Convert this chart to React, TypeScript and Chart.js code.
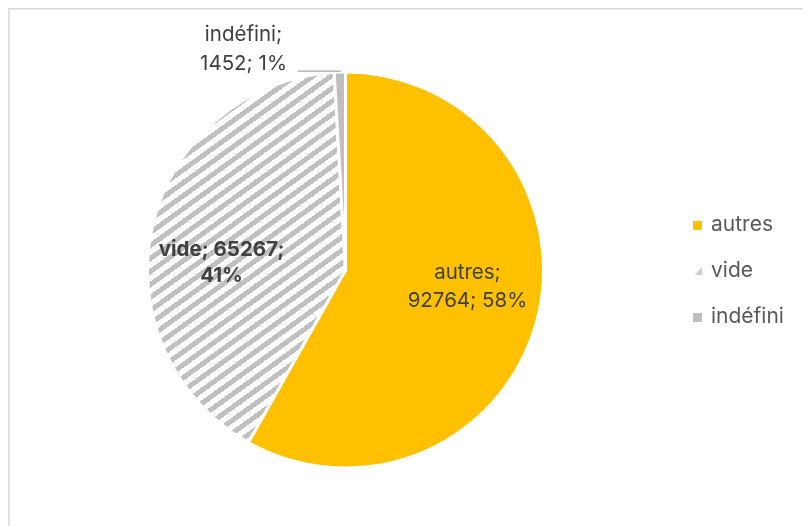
import React, { useEffect, useRef } from "react";
import { Chart, registerables } from "chart.js";

Chart.register(...registerables);

const categories = ["autres", "vide", "indéfini"];
const values = [92764, 65267, 1452];
const percentLabels = ["58%", "41%", "1%"];

const YELLOW = "#FFC000";
const GREY = "#BFBFBF";
const TEXT = "#404040";
const LEGEND_TEXT = "#595959";
const FONT = "Inter, 'Noto Sans', sans-serif";

function makeHatch(): CanvasPattern | string {
  const w = 18, h = 13;
  const c = document.createElement("canvas");
  c.width = w; c.height = h;
  const ctx = c.getContext("2d");
  if (!ctx) return GREY;
  const img = ctx.createImageData(w, h);
  for (let y = 0; y < h; y++) {
    for (let x = 0; x < w; x++) {
      const d = ((x + 0.5) / w + (y + 0.5) / h) % 1;
      const i = (y * w + x) * 4;
      const on = d < 0.48;
      img.data[i] = on ? 192 : 255;
      img.data[i + 1] = on ? 192 : 255;
      img.data[i + 2] = on ? 192 : 255;
      img.data[i + 3] = 255;
    }
  }
  ctx.putImageData(img, 0, 0);
  const p = ctx.createPattern(c, "repeat");
  return p || GREY;
}

// label anchors relative to pie centre, as fractions of radius
const labelAnchors = [
  { fx: 0.616, fy: 0.086, bold: false, lh: 28 },
  { fx: -0.626, fy: -0.035, bold: true, lh: 26 },
  { fx: -0.515, fy: -1.116, bold: false, lh: 29 },
];

export default function App() {
  const ref = useRef<HTMLCanvasElement>(null);

  useEffect(() => {
    const canvas = ref.current;
    if (!canvas) return;
    const hatch = makeHatch();
    const colors: any[] = [YELLOW, hatch, GREY];

    const overlay = {
      id: "overlay",
      beforeDraw(chart: any) {
        const ctx = chart.ctx;
        ctx.save();
        ctx.fillStyle = "#ffffff";
        ctx.fillRect(0, 0, chart.width, chart.height);
        ctx.strokeStyle = "#D9D9D9";
        ctx.lineWidth = 1.5;
        ctx.strokeRect(9, 8.75, chart.width + 20, chart.height + 20);
        ctx.restore();
      },
      afterDraw(chart: any) {
        const ctx = chart.ctx;
        const meta = chart.getDatasetMeta(0);
        const arc0 = meta.data[0];
        const cx = arc0.x, cy = arc0.y, r = arc0.outerRadius;
        ctx.save();
        ctx.textAlign = "center";
        ctx.textBaseline = "middle";
        categories.forEach((cat, i) => {
          const a = labelAnchors[i];
          const x = cx + a.fx * r;
          const y = cy + a.fy * r;
          ctx.font = `${a.bold ? "bold " : ""}20.5px ${FONT}`;
          ctx.fillStyle = TEXT;
          let lines: string[];
          if (i === 1) lines = [`${cat}; ${values[i]};`, percentLabels[i]];
          else lines = [`${cat};`, `${values[i]}; ${percentLabels[i]}`];
          ctx.fillText(lines[0], x, y - a.lh / 2);
          ctx.fillText(lines[1], x, y + a.lh / 2);
        });
        // leader line for the small slice
        const small = meta.data[2];
        const mid = (small.startAngle + small.endAngle) / 2;
        const ex = cx + Math.cos(mid) * r;
        const ey = cy + Math.sin(mid) * r - 1;
        ctx.strokeStyle = "#A6A6A6";
        ctx.lineWidth = 1.2;
        ctx.beginPath();
        ctx.moveTo(ex - 42, ey);
        ctx.lineTo(ex + 1, ey);
        ctx.stroke();

        // legend
        const lx = 693, ly0 = 225, step = 46;
        ctx.textAlign = "left";
        ctx.font = `21px ${FONT}`;
        categories.forEach((cat, i) => {
          const y = ly0 + i * step;
          if (i === 1) {
            ctx.save();
            ctx.beginPath();
            ctx.moveTo(lx + 9, y - 4);
            ctx.lineTo(lx + 9, y + 4);
            ctx.lineTo(lx + 2, y + 4);
            ctx.closePath();
            ctx.fillStyle = GREY;
            ctx.globalAlpha = 0.8;
            ctx.fill();
            ctx.restore();
          } else {
            ctx.fillStyle = colors[i];
            ctx.fillRect(lx, y - 4, 9, 9);
          }
          ctx.fillStyle = LEGEND_TEXT;
          ctx.fillText(cat, lx + 18, y);
        });
        ctx.restore();
      },
    };

    const chart = new Chart(canvas, {
      type: "pie",
      data: {
        labels: categories,
        datasets: [
          {
            data: values,
            backgroundColor: colors,
            borderColor: "#ffffff",
            borderWidth: 3,
            hoverOffset: 0,
          },
        ],
      },
      options: {
        responsive: false,
        animation: false,
        events: [],
        layout: { padding: { left: 146, right: 258, top: 70, bottom: 56 } },
        plugins: {
          legend: { display: false },
          tooltip: { enabled: false },
        },
      },
      plugins: [overlay],
    });
    return () => chart.destroy();
  }, []);

  return (
    <div style={{ position: "fixed", left: 0, top: 0, width: 803, height: 526, background: "#fff" }}>
      <canvas ref={ref} width={803} height={526} style={{ display: "block" }} />
    </div>
  );
}
